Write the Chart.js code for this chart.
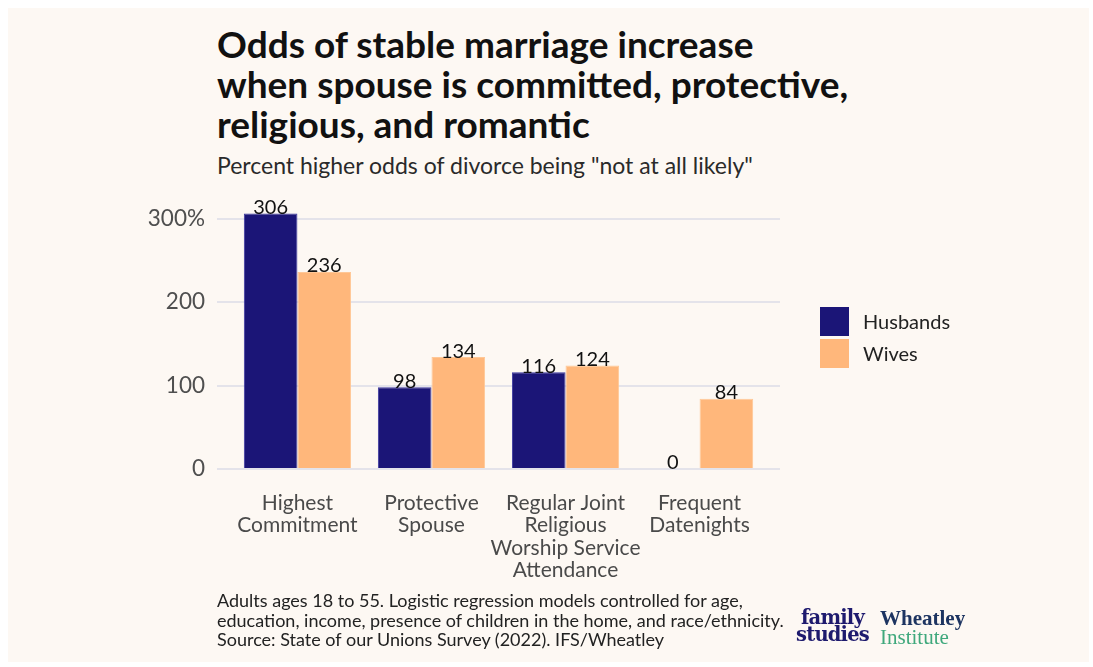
<!DOCTYPE html>
<html>
<head>
<meta charset="utf-8">
<script src="https://cdn.jsdelivr.net/npm/chart.js@4/dist/chart.umd.min.js"></script>
<style>
  html, body { margin: 0; padding: 0; background: #ffffff; }
  body { width: 1093px; height: 667px; position: relative; overflow: hidden; font-family: Lato, "Open Sans", sans-serif; }
  #card { position: absolute; left: 8px; top: 8px; width: 1081px; height: 654px; background: #fdf8f3; }
  #title { position: absolute; left: 217px; top: 24px; font-size: 37px; font-weight: 700; line-height: 40px; color: #111; }
  #subtitle { position: absolute; left: 217px; top: 151px; font-size: 23px; color: #2a2a2a; }
  #chartBox { position: absolute; left: 0; top: 0; width: 1093px; height: 667px; }
  #legend { position: absolute; left: 820px; top: 305px; font-size: 20px; color: #222; }
  .item { display: flex; align-items: center; height: 32px; }
  .swatch { width: 29px; height: 29px; margin-right: 14px; box-sizing: border-box; }
  #caption { position: absolute; left: 217px; top: 591px; font-size: 18px; line-height: 19.5px; color: #222; }
  #fs { position: absolute; left: 796px; top: 609px; font-family: "DejaVu Serif", "Liberation Serif", serif; font-weight: 700; font-size: 19.5px; line-height: 17px; color: #1e1a6e; text-align: center; letter-spacing: -0.8px; }
  #wi { position: absolute; left: 880px; top: 609px; font-family: "Liberation Serif", serif; font-size: 21px; line-height: 19px; }
</style>
</head>
<body>
<div id="card"></div>
<div id="title">Odds of stable marriage increase<br>when spouse is committed, protective,<br>religious, and romantic</div>
<div id="subtitle">Percent higher odds of divorce being "not at all likely"</div>
<div id="chartBox"><canvas id="chart" width="1093" height="667"></canvas></div>
<div id="legend"></div>
<div id="caption">Adults ages 18 to 55. Logistic regression models controlled for age,<br>education, income, presence of children in the home, and race/ethnicity.<br>Source: State of our Unions Survey (2022). IFS/Wheatley</div>
<div id="fs">family<br>studies</div>
<div id="wi"><span style="color:#1d3461;font-weight:700">Wheatley</span><br><span style="color:#3fa87c">Institute</span></div>
<script>
// categories and values
const categories = [
  ["Highest", "Commitment"],
  ["Protective", "Spouse"],
  ["Regular Joint", "Religious", "Worship Service", "Attendance"],
  ["Frequent", "Datenights"]
];
const husbands = [306, 98, 116, 0];
const wives = [236, 134, 124, 84];
const seriesNames = ["Husbands", "Wives"];
const seriesColors = ["#1b1577", "#ffb77b"];
const yTicks = [0, 100, 200, 300];

// legend
const legend = document.getElementById("legend");
seriesNames.forEach((name, i) => {
  const d = document.createElement("div");
  d.className = "item";
  d.innerHTML = `<span class="swatch" style="background:${seriesColors[i]}"></span>${name}`;
  legend.appendChild(d);
});

// value labels above bars
const valueLabels = {
  id: "valueLabels",
  afterDatasetsDraw(chart) {
    const ctx = chart.ctx;
    ctx.save();
    ctx.font = "20px Lato";
    ctx.fillStyle = "#111";
    ctx.textAlign = "center";
    ctx.textBaseline = "bottom";
    chart.data.datasets.forEach((ds, i) => {
      chart.getDatasetMeta(i).data.forEach((bar, j) => {
        ctx.fillText(ds.data[j].y, bar.x, bar.y + 4);
      });
    });
    ctx.restore();
  }
};

const xs = categories.map((c, i) => i + 1);

new Chart(document.getElementById("chart"), {
  type: "bar",
  data: {
    datasets: [
      { label: seriesNames[0], data: xs.map((x, i) => ({ x: x, y: husbands[i] })), backgroundColor: seriesColors[0], borderColor: "#3a35a0", borderWidth: 1 },
      { label: seriesNames[1], data: xs.map((x, i) => ({ x: x, y: wives[i] })), backgroundColor: seriesColors[1], borderColor: "#ffc796", borderWidth: 1 }
    ]
  },
  options: {
    responsive: false,
    animation: false,
    layout: { padding: { left: 0, right: 313, top: 201, bottom: 85 } },
    datasets: { bar: { categoryPercentage: 0.8, barPercentage: 1.0 } },
    plugins: { legend: { display: false }, tooltip: { enabled: false } },
    scales: {
      x: {
        type: "linear",
        offset: false,
        min: 0.4,
        max: 4.6,
        afterBuildTicks: (axis) => { axis.ticks = xs.map(v => ({ value: v })); },
        afterFit: (axis) => { axis.paddingLeft = 0; axis.paddingRight = 0; axis.height = 113; },
        grid: { display: false, drawTicks: false, offset: false },
        border: { display: false },
        ticks: {
          callback: (v) => categories[v - 1],
          color: "#4a4a4a",
          font: { family: "Lato", size: 21, lineHeight: 1.07 },
          padding: 23,
          maxRotation: 0,
          autoSkip: false
        }
      },
      y: {
        min: 0,
        max: 321,
        afterBuildTicks: (axis) => { axis.ticks = yTicks.map(v => ({ value: v })); },
        afterFit: (axis) => { axis.width = 217; },
        grid: { color: "#e4e3ea", lineWidth: 2, drawTicks: false },
        border: { display: false },
        ticks: {
          callback: (v) => v === 300 ? "300%" : v,
          color: "#4f4f4f",
          font: { family: "Lato", size: 22.5 },
          padding: 12
        }
      }
    }
  },
  plugins: [valueLabels]
});
</script>
</body>
</html>
